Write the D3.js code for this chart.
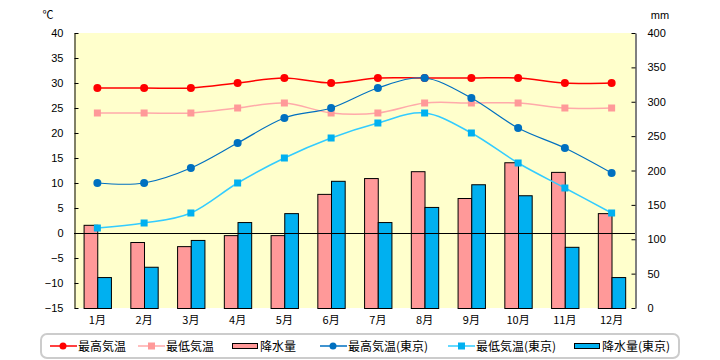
<!DOCTYPE html>
<html><head><meta charset="utf-8">
<script src="https://cdn.jsdelivr.net/npm/d3@7"></script>
<style>
html,body{margin:0;padding:0;background:#fff;}
svg{display:block;font-family:"Noto Sans CJK JP","Liberation Sans",sans-serif;}
</style></head>
<body>
<svg id="chart" width="720" height="360"></svg>
<script>
const months = ["1月","2月","3月","4月","5月","6月","7月","8月","9月","10月","11月","12月"];
const maxTemp = [29,29,29,30,31,30,31,31,31,31,30,30];
const minTemp = [24,24,24,25,26,24,24,26,26,26,25,25];
const precip = [121,96,90,106,106,166,189,199,160,212,198,138];
const maxTempTokyo = [10,10,13,18,23,25,29,31,27,21,17,12];
const minTempTokyo = [1,2,4,10,15,19,22,24,20,14,9,4];
const precipTokyo = [45,60,99,125,138,185,125,147,180,164,89,45];
const tempTicks = [-15,-10,-5,0,5,10,15,20,25,30,35,40];
const precipTicks = [0,50,100,150,200,250,300,350,400];
const legendLabels = ["最高気温","最低気温","降水量","最高気温(東京)","最低気温(東京)","降水量(東京)"];

const svg = d3.select("#chart");
const L = 74, R = 635, T = 33, B = 308;

const x = d3.scaleBand().domain(months).range([L, R]).paddingInner(0).paddingOuter(0);
const bw = x.bandwidth();
const xs = d3.scaleBand().domain(["a","b"]).range([bw*0.205, bw*0.79]);
const yT = d3.scaleLinear().domain([-15, 40]).range([B, T]);
const yP = d3.scaleLinear().domain([0, 400]).range([B, T]);

svg.append("rect").attr("x", L).attr("y", T).attr("width", R-L).attr("height", B-T).attr("fill", "#FFFFCC");

// bars
const g = svg.append("g");
function bars(data, key, fill){
  g.selectAll(null).data(data).enter().append("rect")
    .attr("x", (d,i) => x(months[i]) + xs(key) + 0.5)
    .attr("y", d => yP(d) + 0.5)
    .attr("width", xs.bandwidth())
    .attr("height", d => B - yP(d))
    .attr("fill", fill).attr("stroke", "#000").attr("stroke-width", 1);
}
bars(precip, "a", "#FF9999");
bars(precipTokyo, "b", "#00B0F0");

// zero line
svg.append("line").attr("x1", L).attr("x2", R).attr("y1", yT(0)+0.5).attr("y2", yT(0)+0.5).attr("stroke", "#000").attr("stroke-width", 1);

// axes
const axL = d3.axisLeft(yT).tickValues(tempTicks).tickSizeInner(-4).tickSizeOuter(0).tickPadding(11);
const gl = svg.append("g").attr("transform", `translate(${L+0.5},0)`).call(axL);
const axR = d3.axisRight(yP).tickValues(precipTicks).tickSizeInner(-4).tickSizeOuter(0).tickPadding(12);
const gr = svg.append("g").attr("transform", `translate(${R+0.5},0)`).call(axR);
[gl, gr].forEach(a => {
  a.select(".domain").attr("stroke", "#000");
  a.selectAll(".tick line").attr("stroke", "#000");
  a.selectAll("text").attr("font-size", 11).attr("fill", "#000").attr("font-family", "Liberation Sans, sans-serif");
});

// month labels
svg.append("g").selectAll(null).data(months).enter().append("text")
  .attr("x", d => x(d) + bw/2).attr("y", 324).attr("text-anchor", "middle")
  .attr("font-size", 11).text(d => d);

// units
svg.append("text").attr("x", 48).attr("y", 19).attr("text-anchor", "middle").attr("font-size", 11).text("℃");
svg.append("text").attr("x", 660).attr("y", 19).attr("text-anchor", "middle").attr("font-size", 11).attr("font-family","Liberation Sans, sans-serif").text("mm");

// lines
const lineGen = (ys) => d3.line().x((d,i) => x(months[i]) + bw/2).y(d => ys(d)).curve(d3.curveCatmullRom.alpha(0));
function series(data, lineColor, markColor, shape, lw){
  svg.append("path").datum(data).attr("d", lineGen(yT)).attr("fill", "none").attr("stroke", lineColor).attr("stroke-width", lw);
  const m = svg.append("g");
  if (shape === "circle") {
    m.selectAll(null).data(data).enter().append("circle")
      .attr("cx", (d,i) => x(months[i]) + bw/2).attr("cy", d => yT(d)).attr("r", 4).attr("fill", markColor);
  } else {
    m.selectAll(null).data(data).enter().append("rect")
      .attr("x", (d,i) => x(months[i]) + bw/2 - 3.5).attr("y", d => yT(d) - 3.5)
      .attr("width", 7).attr("height", 7).attr("fill", markColor);
  }
}
series(minTemp, "#FFAAAA", "#FF9999", "square", 1.5);
series(maxTemp, "#FF0000", "#FF0000", "circle", 1.5);
series(minTempTokyo, "#33CCFF", "#00B0F0", "square", 1.5);
series(maxTempTokyo, "#0070C0", "#0070C0", "circle", 1.2);

// legend
svg.append("rect").attr("x", 41).attr("y", 334).attr("width", 638).attr("height", 24).attr("rx", 6)
  .attr("fill", "#fff").attr("stroke", "#CCCCCC").attr("stroke-width", 2);
const leg = [
  {x:50, type:"line", c:"#FF0000", mc:"#FF0000", shape:"circle"},
  {x:138, type:"line", c:"#FFAAAA", mc:"#FF9999", shape:"square"},
  {x:232, type:"rect", c:"#FF9999"},
  {x:320, type:"line", c:"#0070C0", mc:"#0070C0", shape:"circle"},
  {x:448, type:"line", c:"#33CCFF", mc:"#00B0F0", shape:"square"},
  {x:574, type:"rect", c:"#00B0F0"}
];
const ly = 346;
leg.forEach((d,i) => {
  if (d.type === "line") {
    svg.append("line").attr("x1", d.x).attr("x2", d.x+27).attr("y1", ly).attr("y2", ly).attr("stroke", d.c).attr("stroke-width", 1.5);
    if (d.shape === "circle") svg.append("circle").attr("cx", d.x+13).attr("cy", ly).attr("r", 3.5).attr("fill", d.mc);
    else svg.append("rect").attr("x", d.x+10).attr("y", ly-3.5).attr("width", 7).attr("height", 7).attr("fill", d.mc);
  } else {
    svg.append("rect").attr("x", d.x+0.5).attr("y", ly-2.5).attr("width", 25).attr("height", 5).attr("fill", d.c).attr("stroke", "#000").attr("stroke-width", 1);
  }
  svg.append("text").attr("x", d.x + 28).attr("y", ly + 4.5).attr("font-size", 12).text(legendLabels[i]);
});
</script>
</body></html>
